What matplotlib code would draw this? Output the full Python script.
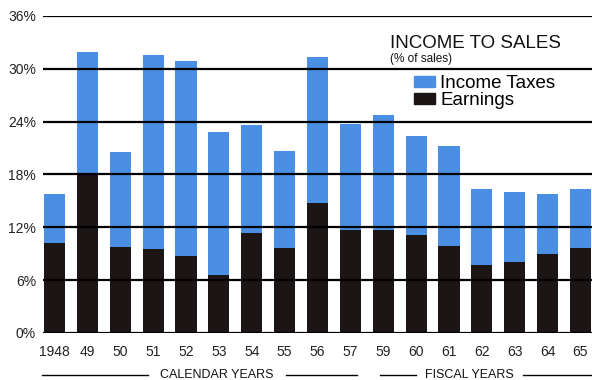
import matplotlib
matplotlib.use("Agg")
import matplotlib.pyplot as plt
from matplotlib.lines import Line2D
from matplotlib.patches import Patch

# values (% of sales)
years = ['1948', '49', '50', '51', '52', '53', '54', '55', '56',
         '57', '59', '60', '61', '62', '63', '64', '65']
totals = [15.8, 31.9, 20.5, 31.6, 30.9, 22.8, 23.6, 20.7, 31.4,
          23.7, 24.8, 22.4, 21.2, 16.3, 16.0, 15.8, 16.4]
earnings = [10.2, 18.0, 9.8, 9.5, 8.7, 6.6, 11.3, 9.6, 14.8,
            11.7, 11.7, 11.1, 9.9, 7.7, 8.1, 9.0, 9.6]
taxes = [t - e for t, e in zip(totals, earnings)]
yticks = [0, 6, 12, 18, 24, 30, 36]

BLUE = '#4a8fe4'
BLACK = '#1b1515'

plt.rcParams['font.family'] = ['Liberation Sans', 'DejaVu Sans']

fig = plt.figure(figsize=(5.92, 3.80), dpi=100)
ax = fig.add_axes([43 / 592, 1 - 333 / 380, 1 - 43 / 592, (333 - 16) / 380])

x = list(range(len(years)))
w = 0.64
ax.bar(x, earnings, width=w, color=BLACK, zorder=2)
ax.bar(x, taxes, width=w, bottom=earnings, color=BLUE, zorder=2)

for yv in yticks:
    ax.axhline(yv, color='black', lw=1.6, zorder=3)

ax.set_xlim(-w / 2 - 0.03, 16.35)
ax.set_ylim(0, 36)
ax.set_yticks(yticks)
ax.set_yticklabels([f'{v}%' for v in yticks], fontsize=10, color='#222222')
ax.set_xticks(x)
ax.set_xticklabels(years, fontsize=10, color='#222222')
ax.tick_params(axis='both', length=0)
ax.tick_params(axis='y', pad=5)
ax.tick_params(axis='x', pad=9)
for s in ax.spines.values():
    s.set_visible(False)

# title block
fig.text(390 / 592, 1 - 43 / 380, 'INCOME TO SALES', fontsize=13.5,
         color='#111111', va='center', ha='left')
fig.text(390 / 592, 1 - 59 / 380, '(% of sales)', fontsize=8.5,
         color='#111111', va='center', ha='left')

handles = [Patch(color=BLUE), Patch(color=BLACK)]
fig.legend(handles, ['Income Taxes', 'Earnings'], loc='upper left',
           bbox_to_anchor=(414 / 592, 1 - 75 / 380), frameon=False,
           fontsize=13.5, handlelength=1.1, handleheight=0.5,
           handletextpad=0.3, labelspacing=0.0, borderpad=0,
           borderaxespad=0)

# bottom period labels
yb = 1 - 375 / 380
for x0, x1 in [(42, 148), (286, 357), (380, 416), (523, 592)]:
    fig.add_artist(Line2D([x0 / 592, x1 / 592], [yb, yb],
                          transform=fig.transFigure, color='black', lw=1))
fig.text(217 / 592, yb, 'CALENDAR YEARS', fontsize=9, ha='center',
         va='center', color='#111111')
fig.text(469 / 592, yb, 'FISCAL YEARS', fontsize=9, ha='center',
         va='center', color='#111111')

fig.savefig('out.png', dpi=100)
